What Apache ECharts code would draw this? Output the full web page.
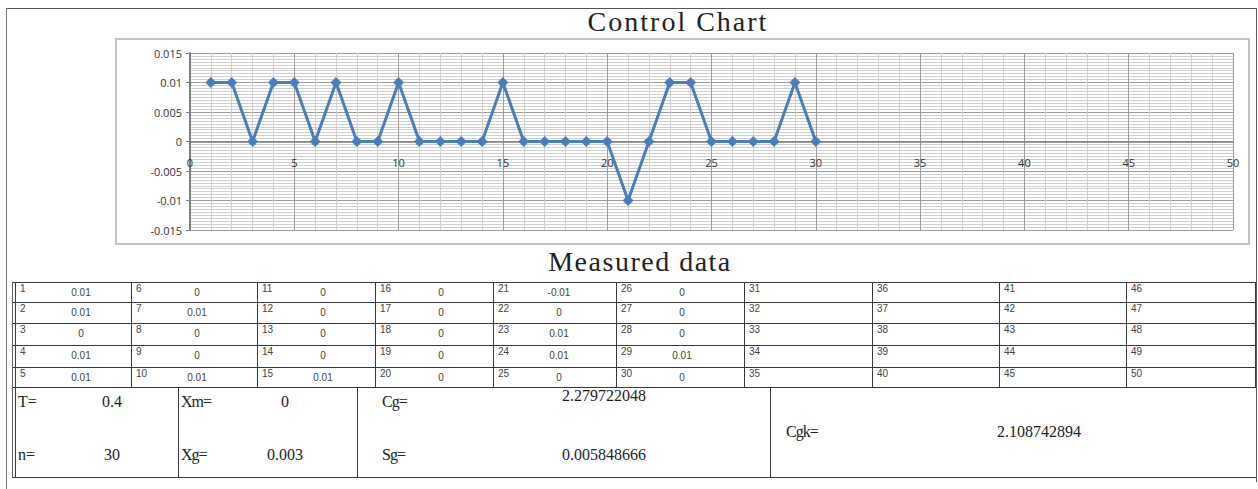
<!DOCTYPE html>
<html>
<head>
<meta charset="utf-8">
<title>Control Chart</title>
<script src="https://cdn.jsdelivr.net/npm/echarts@6/dist/echarts.min.js"></script>
<style>
    body { margin: 0; background: #fff; }
    #page { position: relative; width: 1258px; height: 489px; overflow: hidden; background: #fff; }
    .ln { position: absolute; background: #3a3a3a; }
    .t { position: absolute; white-space: nowrap; line-height: 1; }
    #chartFrame { position: absolute; left: 115px; top: 38px; width: 1135px; height: 207px;
        box-sizing: border-box; border: 2px solid #c4c4c4; }
    #chart { position: absolute; left: 115px; top: 38px; width: 1135px; height: 207px; }
</style>
</head>
<body>
<div id="page">
    <div id="chartFrame"></div>
    <div id="chart"></div>
</div>
<script>
// measured values, sample 1..30 (31..50 empty)
const measured = [0.01, 0.01, 0, 0.01, 0.01, 0, 0.01, 0, 0, 0.01,
    0, 0, 0, 0, 0.01, 0, 0, 0, 0, 0,
    -0.01, 0, 0.01, 0.01, 0, 0, 0, 0, 0.01, 0];
const sampleCount = 50;
const xTicks = [0, 50, 5];            // min, max, interval
const yTicks = [-0.015, 0.015, 0.005];
const statLeft = [['T=', '0.4'], ['n=', '30']];
const statMid = [['Xm=', '0'], ['Xg=', '0.003']];
const statRight = [['Cg=', '2.279722048'], ['Sg=', '0.005848666']];
const statCgk = ['Cgk=', '2.108742894'];

const page = document.getElementById('page');
const serif = '"Liberation Serif", "Times New Roman", serif';
const sans = '"Liberation Sans", Arial, sans-serif';

function line(x, y, w, h, color) {
    const d = document.createElement('div');
    d.className = 'ln';
    d.style.left = x + 'px';
    d.style.top = y + 'px';
    d.style.width = w + 'px';
    d.style.height = h + 'px';
    if (color) d.style.background = color;
    page.appendChild(d);
}

function txt(s, x, y, size, family, color, align, extra) {
    const d = document.createElement('div');
    d.className = 't';
    d.textContent = s;
    d.style.left = x + 'px';
    d.style.top = y + 'px';
    d.style.fontSize = size + 'px';
    d.style.fontFamily = family;
    d.style.color = color;
    d.style.transform = 'translate(' + (align === 'center' ? '-50%' : '0') + ',-50%)';
    if (extra) Object.assign(d.style, extra);
    page.appendChild(d);
}

// outer frame
line(6, 8, 1251, 1, '#555');
line(6, 8, 1, 481, '#777');
line(1256, 8, 1, 474, '#555');

txt('Control Chart', 678, 22, 28, serif, '#222', 'center', { letterSpacing: '2px' });
txt('Measured data', 640, 262, 28, serif, '#222', 'center', { letterSpacing: '1.5px' });

// measured data table
const colX = [15, 131, 257, 375, 493, 616, 744, 872, 999, 1126, 1255];
const rowY = [282, 302, 323, 345, 367, 387];
rowY.forEach(y => line(12, y, 1244, 1));
colX.forEach(x => line(x, 282, 1, 105));
line(12, 282, 1, 105, '#666');

for (let c = 0; c < 10; c++) {
    for (let r = 0; r < 5; r++) {
        const idx = c * 5 + r;
        if (idx >= sampleCount) continue;
        const x = colX[c], y = rowY[r];
        txt(String(idx + 1), x + 5, y + 7, 10, sans, '#444', 'left');
        if (idx < measured.length) {
            txt(String(measured[idx]), x + 66, y + 11, 10, sans, '#444', 'center');
        }
    }
}

// statistics block
line(12, 477, 1244, 1);
[15, 178, 357, 770].forEach(x => line(x, 387, 1, 90));
line(12, 387, 1, 90, '#666');

const rowsY = [402, 455];
statLeft.forEach((p, i) => {
    txt(p[0], 18, rowsY[i], 16, serif, '#222', 'left');
    txt(p[1], 112, rowsY[i], 16, serif, '#222', 'center');
});
statMid.forEach((p, i) => {
    txt(p[0], 181, rowsY[i], 16, serif, '#222', 'left', { letterSpacing: '-1px' });
    txt(p[1], 285, rowsY[i], 16, serif, '#222', 'center');
});
statRight.forEach((p, i) => {
    txt(p[0], 382, rowsY[i], 16, serif, '#222', 'left', { letterSpacing: '-1px' });
    txt(p[1], 562, i === 0 ? 396 : 455, 16, serif, '#222', 'left');
});
txt(statCgk[0], 786, 432, 16, serif, '#222', 'left', { letterSpacing: '-1px' });
txt(statCgk[1], 997, 432, 16, serif, '#222', 'left');

// control chart
const gridH = 177;
const points = measured.map((v, i) => [i + 1, v]);
const ecIns = echarts.init(document.getElementById('chart'), null, { renderer: 'svg' });
ecIns.setOption({
    animation: false,
    grid: { left: 75, top: 15, width: 1043, height: gridH },
    xAxis: {
        type: 'value',
        position: 'bottom',
        // x axis crosses at y = 0, which sits mid-height
        offset: -gridH / 2,
        min: xTicks[0],
        max: xTicks[1],
        interval: xTicks[2],
        axisLine: { onZero: false, lineStyle: { color: '#7f7f7f', width: 1.5 } },
        axisTick: { show: false },
        axisLabel: { margin: 15, fontSize: 11, color: '#333', fontFamily: '"Open Sans", sans-serif' },
        splitLine: { show: true, lineStyle: { color: '#9c9c9c', width: 1 } },
        minorTick: { show: false, splitNumber: 5 },
        minorSplitLine: { show: true, lineStyle: { color: '#d0d0d0', width: 1 } }
    },
    yAxis: {
        type: 'value',
        min: yTicks[0],
        max: yTicks[1],
        interval: yTicks[2],
        axisLine: { show: true, lineStyle: { color: '#7f7f7f', width: 2 } },
        axisTick: { show: true, length: 4, lineStyle: { color: '#7f7f7f' } },
        axisLabel: {
            margin: 8, fontSize: 11, color: '#333', fontFamily: '"Open Sans", sans-serif',
            formatter: v => String(parseFloat(v.toFixed(4)))
        },
        splitLine: { show: true, lineStyle: { color: '#9c9c9c', width: 1 } },
        minorTick: { show: false, splitNumber: 10 },
        minorSplitLine: { show: true, lineStyle: { color: '#d0d0d0', width: 1 } }
    },
    series: [{
        type: 'line',
        data: points,
        symbol: 'diamond',
        symbolSize: 11,
        lineStyle: { color: '#4a7ebb', width: 3 },
        itemStyle: { color: '#4a7ebb' }
    }]
});
</script>
</body>
</html>
